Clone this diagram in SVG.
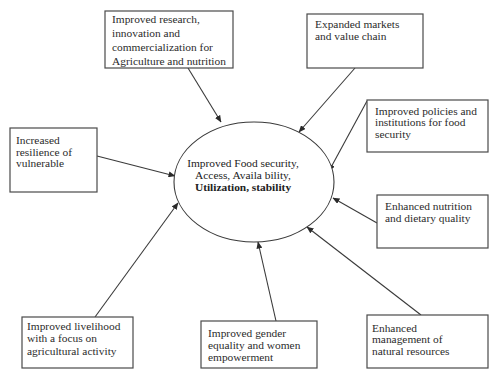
<svg xmlns="http://www.w3.org/2000/svg" width="490" height="369" viewBox="0 0 490 369">
  <style>
    .box { fill: #ffffff; stroke: #4a4a4a; stroke-width: 1.2; }
    .lbl { font-family: "Liberation Serif", "DejaVu Serif", serif; font-size: 11.4px; fill: #2b2b2b; }
    .core { font-family: "Liberation Serif", "DejaVu Serif", serif; font-size: 11.4px; fill: #222222; text-anchor: middle; }
    .edge { stroke: #3a3a3a; stroke-width: 1.1; fill: none; marker-end: url(#arrow); }
  </style>
  <defs>
    <marker id="arrow" markerWidth="7" markerHeight="6" refX="6.5" refY="3" orient="auto" markerUnits="userSpaceOnUse">
      <path d="M0,0 L7,3 L0,6 Z" fill="#2a2a2a"/>
    </marker>
  </defs>
  <rect width="490" height="369" fill="#ffffff"/>

  <!-- connectors -->
  <g id="connectors">
    <line class="edge" x1="188" y1="68" x2="221" y2="122"/>
    <line class="edge" x1="355" y1="68" x2="299" y2="132"/>
    <line class="edge" x1="97" y1="156" x2="175" y2="176"/>
    <line class="edge" x1="367" y1="101" x2="329" y2="171"/>
    <line class="edge" x1="377" y1="223" x2="333" y2="198"/>
    <line class="edge" x1="421" y1="315" x2="307" y2="227"/>
    <line class="edge" x1="276" y1="321" x2="258" y2="242"/>
    <line class="edge" x1="95" y1="317" x2="178" y2="203"/>
  </g>

  <!-- central outcome -->
  <g id="food-security">
    <ellipse cx="254" cy="182" rx="80" ry="60" fill="#ffffff" stroke="#3a3a3a" stroke-width="1.1"/>
    <text class="core" x="243" y="166.5">Improved Food security,</text>
    <text class="core" x="243" y="178.5">Access, Availa bility,</text>
    <text class="core" x="243" y="190.5" font-weight="bold">Utilization, stability</text>
  </g>

  <g id="research">
    <rect class="box" x="105" y="11" width="128" height="57"/>
    <text class="lbl" x="112" y="22.5">Improved research,</text>
    <text class="lbl" x="112" y="36.5">innovation and</text>
    <text class="lbl" x="112" y="50.5">commercialization for</text>
    <text class="lbl" x="112" y="64.5">Agriculture and nutrition</text>
  </g>

  <g id="markets">
    <rect class="box" x="307" y="14" width="116" height="54"/>
    <text class="lbl" x="315" y="27.5">Expanded markets</text>
    <text class="lbl" x="315" y="39.5">and value chain</text>
  </g>

  <g id="resilience">
    <rect class="box" x="10" y="128" width="87" height="64"/>
    <text class="lbl" x="16" y="144">Increased</text>
    <text class="lbl" x="16" y="155.5">resilience of</text>
    <text class="lbl" x="16" y="167">vulnerable</text>
  </g>

  <g id="policies">
    <rect class="box" x="367" y="100" width="121" height="52"/>
    <text class="lbl" x="375" y="114.5">Improved policies and</text>
    <text class="lbl" x="375" y="126">institutions for food</text>
    <text class="lbl" x="375" y="137.5">security</text>
  </g>

  <g id="nutrition">
    <rect class="box" x="377" y="195" width="111" height="53"/>
    <text class="lbl" x="385" y="210">Enhanced nutrition</text>
    <text class="lbl" x="385" y="222">and dietary quality</text>
  </g>

  <g id="livelihood">
    <rect class="box" x="22" y="317" width="111" height="51"/>
    <text class="lbl" x="27" y="330">Improved livelihood</text>
    <text class="lbl" x="27" y="342">with a focus on</text>
    <text class="lbl" x="27" y="354.5">agricultural activity</text>
  </g>

  <g id="gender">
    <rect class="box" x="201" y="321" width="116" height="47"/>
    <text class="lbl" x="208" y="336.5">Improved gender</text>
    <text class="lbl" x="208" y="348.5">equality and women</text>
    <text class="lbl" x="208" y="360.5">empowerment</text>
  </g>

  <g id="natural-resources">
    <rect class="box" x="367" y="315" width="121" height="53"/>
    <text class="lbl" x="372" y="332">Enhanced</text>
    <text class="lbl" x="372" y="343">management of</text>
    <text class="lbl" x="372" y="355">natural resources</text>
  </g>
</svg>
